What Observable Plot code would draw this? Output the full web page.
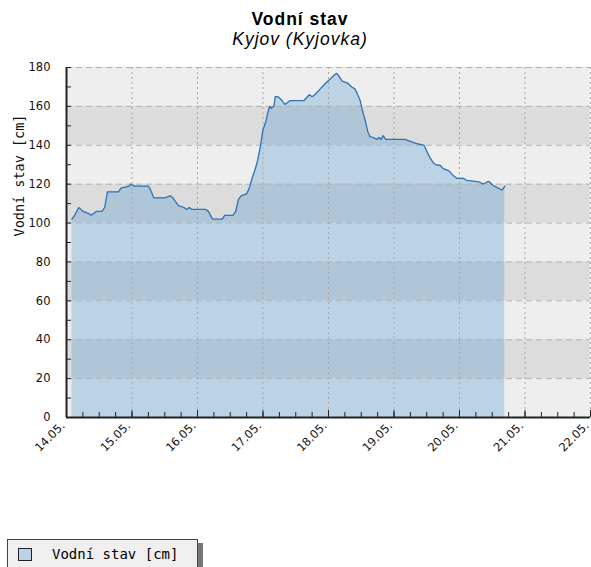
<!DOCTYPE html>
<html><head><meta charset="utf-8">
<script src="https://cdn.jsdelivr.net/npm/d3@7"></script>
<script src="https://cdn.jsdelivr.net/npm/@observablehq/plot@0.6"></script>
<style>
html,body{margin:0;padding:0;background:#fff;overflow:hidden;width:591px;height:567px;}
#head{height:52px;position:relative;}
#title,#subtitle{position:absolute;left:0;width:600px;text-align:center;font-family:"Liberation Sans",Arial,sans-serif;font-size:17.5px;line-height:19.5px;letter-spacing:1px;color:#000;}
#title{top:10px;font-weight:bold;}
#subtitle{top:30px;font-style:italic;}
#legend{position:absolute;left:7px;top:539px;width:189px;height:40px;background:#efefef;border:1px solid #444;box-shadow:5px 4px 0 #777;}
#swatch{position:absolute;left:10px;top:8px;width:12px;height:11px;background:#bcd2e6;border:1.5px solid #222;}
#ltext{position:absolute;left:44px;top:5px;font-family:"DejaVu Sans Mono",monospace;font-size:14px;line-height:18px;color:#000;white-space:nowrap;}
</style>
</head><body>
<div id="head"><div id="title">Vodní stav</div><div id="subtitle">Kyjov (Kyjovka)</div></div>
<div id="chart"></div>
<div id="legend"><div id="swatch"></div><div id="ltext">Vodní stav [cm]</div></div>
<script>
const hours = [2,3,4.5,6,8,9,11,13,14,15,16,19,20,23,23.5,25,30,30.5,32,36,38,39,41,43,44,45,46,51,52,53.5,57,58,61,62,63,64,66,67,68,69,70,71,72,73,74,74.5,75,76,76.5,77.5,79,79.5,80,82,83,87,89,90,91,93,95,96.6,98,99,99.6,101,103,104.5,105.7,106.7,107.6,108.4,109.4,110.4,111.2,112.4,113.7,114.5,115.3,116,117,124,126,128,131,132,133,134.4,135.3,137,138,140,141.7,143,145.4,146.6,149.7,151.5,152.7,154,154.8,156.3,158.2,159.4,160,160.6];
const levels = [102,104,108,106,105,104,106,106,108,116,116,116,118,119,120,119,119,118,113,113,114,113,109,108,107,108,107,107,106,102,102,104,104,106,112,114,115,118,123,127,132,139,148,152,158,160,159,160,165,165,163,162,161,163,163,163,166,165,166,169,172,174,176,177,176,173,172,170,169,166,163,158,153,147,144.5,144,143,144,143,145,143,143,142,141,140,137,134,131,130,129.6,128,127,124.5,123,123,122,121.4,121,120,121,121.4,119.3,118,117,117.6,119];
const dayLabels = ["14.05.","15.05.","16.05.","17.05.","18.05.","19.05.","20.05.","21.05.","22.05."];
const yTicks = [0,20,40,60,80,100,120,140,160,180];
const yLabel = "Vodní stav [cm]";

const start = Date.UTC(2014,4,14);
const data = hours.map((h,i)=>({t:new Date(start+h*3600e3), v:levels[i]}));
const days = dayLabels.map((s,i)=>new Date(start+i*864e5));
const quarterDays = d3.range(0, 8*4+1).map(i=>new Date(start+i*6*3600e3));
const yMinor = d3.range(0, 181, 10);
const bands = yTicks.slice(0,-1).map((y,i)=>({y1:y, y2:yTicks[i+1], k:i%2}));

const chart = Plot.plot({
  width: 591, height: 410,
  marginTop: 15, marginLeft: 66, marginRight: 1, marginBottom: 45,
  style: {fontFamily: "DejaVu Sans, sans-serif", fontSize: "11.5px", color: "#111", background: "transparent", overflow: "visible"},
  x: {type: "utc", domain: [days[0], days[days.length-1]]},
  y: {domain: [0, 180]},
  marks: [
    Plot.rect(bands.filter(d=>d.k===0), {y1:"y1", y2:"y2", fill:"#eeeeee"}),
    Plot.rect(bands.filter(d=>d.k===1), {y1:"y1", y2:"y2", fill:"#dcdcdc"}),
    Plot.areaY(data, {x:"t", y:"v", fill:"rgb(60,140,210)", fillOpacity:0.28}),
    Plot.ruleY(yTicks.slice(1), {stroke:"#b2b2b2", strokeDasharray:"6,4"}),
    Plot.ruleX(days.slice(1), {stroke:"#a6a6a6", strokeDasharray:"2,3"}),
    Plot.lineY(data, {x:"t", y:"v", stroke:"#2f73b3", strokeWidth:1.3}),
    Plot.axisY(yMinor, {tickSize:-5, text:null, label:null, stroke:"#222"}),
    Plot.axisY(yTicks, {tickSize:0, tickPadding:16, label:null}),
    Plot.axisX(quarterDays, {tickSize:-5, text:null, label:null, stroke:"#222"}),
    Plot.axisX(days, {tickSize:-7, text:null, label:null, stroke:"#222"}),
    Plot.text(days, {x:d=>d, text:(d,i)=>dayLabels[i], frameAnchor:"bottom", rotate:-45, textAnchor:"end", dx:-1, dy:9}),
    Plot.text([yLabel], {text:d=>d, frameAnchor:"left", rotate:-90, dx:-47, dy:-6, fontFamily:"DejaVu Sans Mono, monospace", fontSize:13.5}),
    Plot.ruleX([days[0]], {stroke:"#222", strokeWidth:2}),
    Plot.ruleY([0], {stroke:"#222", strokeWidth:2})
  ]
});
document.getElementById("chart").appendChild(chart);
</script>
</body></html>
